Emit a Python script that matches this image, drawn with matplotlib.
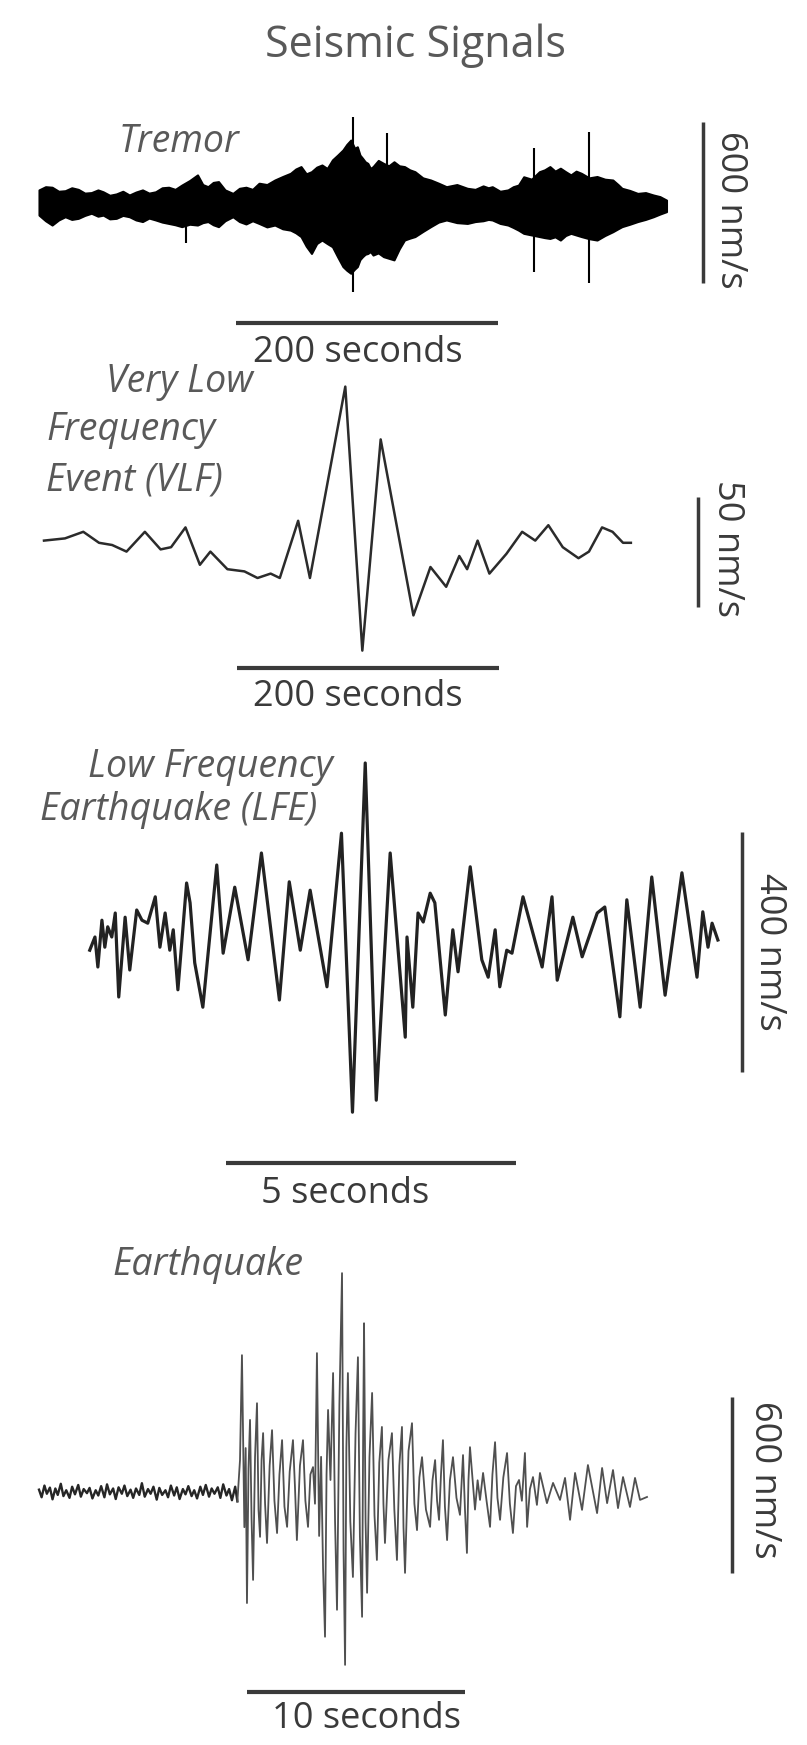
import matplotlib
matplotlib.use("Agg")
import matplotlib.pyplot as plt

# ---- Tremor: envelope of the dense record (s, nm/s) plus isolated spikes
tremor_t = [0, 5, 10, 15, 20, 25, 30, 35, 40, 45,
            49, 54, 59, 64, 69, 74, 79, 84, 89, 94,
            99, 104, 109, 115, 121, 125, 129, 133, 137, 142,
            148, 153, 158, 163, 168, 174, 180, 186, 192, 196,
            200, 204, 208, 212, 216, 220, 224, 228, 232, 235,
            238, 241, 243, 245, 247, 249, 251, 253, 255, 259,
            263, 267, 271, 275, 279, 283, 287, 293, 299, 305,
            311, 319, 327, 333, 339, 343, 346, 352, 358, 362,
            366, 370, 376, 382, 386, 390, 394, 398, 402, 406,
            410, 414, 420, 426, 432, 438, 442, 445, 451, 457,
            463, 469, 474, 479]
tremor_hi = [60, 72, 70, 55, 57, 68, 62, 48, 50, 60,
             53, 40, 45, 55, 41, 52, 60, 48, 53, 68,
             70, 62, 78, 95, 116, 80, 72, 88, 91, 60,
             47, 66, 70, 62, 85, 80, 97, 110, 122, 138,
             147, 120, 128, 145, 153, 140, 172, 190, 209, 230,
             246, 215, 221, 190, 178, 165, 159, 140, 147, 170,
             159, 150, 165, 150, 147, 135, 128, 105, 97, 85,
             72, 80, 66, 62, 75, 68, 72, 55, 60, 72,
             78, 109, 100, 128, 135, 147, 130, 141, 128, 116,
             130, 122, 105, 110, 100, 97, 80, 66, 58, 47,
             50, 41, 35, 22]
tremor_lo = [-34, -55, -71, -52, -40, -50, -46, -35, -27, -38,
             -34, -48, -46, -35, -40, -52, -58, -45, -52, -60,
             -65, -70, -77, -68, -71, -62, -58, -70, -77, -55,
             -40, -58, -67, -55, -65, -78, -71, -85, -90, -100,
             -114, -150, -177, -140, -127, -140, -152, -190, -226, -240,
             -251, -235, -226, -200, -189, -180, -177, -170, -183, -175,
             -189, -195, -201, -160, -127, -120, -114, -95, -77, -60,
             -52, -62, -65, -58, -55, -50, -52, -65, -71, -80,
             -90, -102, -108, -114, -118, -121, -115, -127, -110, -102,
             -108, -114, -122, -127, -110, -96, -85, -77, -68, -58,
             -50, -40, -30, -21]
spike_t = [112, 240, 266, 378, 420]
spike_lo = [-139, -320, -150, -245, -286]
spike_hi = [40, 333, 271, 215, 277]

# ---- Very low frequency event (s, nm/s)
vlf_t = [0, 16, 30, 42, 52, 63, 77, 89, 97, 108, 119, 127, 140, 153, 163, 173, 180,
         194, 203, 230, 243, 257, 282, 295, 307, 317, 323, 331, 340, 353, 365, 375,
         385, 396, 408, 416, 426, 434, 442, 448]
vlf_v = [2, 3, 6, 1, 0, -3, 6, -2, -1, 8, -9, -3, -11, -12, -15, -13, -15,
         11, -15, 72, -48, 48, -32, -10, -19, -5, -11, 2, -13, -4, 6, 2,
         9, -1, -6, -3, 8, 6, 1, 1]

# ---- Low frequency earthquake (s, nm/s)
lfe_t = [0.03, 0.12, 0.17, 0.24, 0.29, 0.34, 0.41, 0.47, 0.53, 0.64, 0.72, 0.84, 0.93,
         1.03, 1.16, 1.24, 1.33, 1.41, 1.47, 1.55, 1.70, 1.76, 1.84, 1.98, 2.22, 2.33,
         2.53, 2.76, 2.99, 3.30, 3.47, 3.66, 3.83, 4.12, 4.37, 4.56, 4.78, 4.97, 5.21,
         5.47, 5.50, 5.60, 5.69, 5.78, 5.90, 5.98, 6.16, 6.29, 6.38, 6.59, 6.79, 6.90,
         7.02, 7.10, 7.22, 7.31, 7.50, 7.83, 8.00, 8.09, 8.19, 8.36, 8.52, 8.78, 8.91,
         9.17, 9.29, 9.52, 9.72, 9.95, 10.24, 10.50, 10.60, 10.69, 10.76, 10.86]
lfe_v = [-17, 5, -45, 33, -12, 22, 5, 45, -95, 38, -50, 50, 33,
         28, 72, -12, 45, -17, 17, -83, 95, 62, -38, -112, 125, -22,
         88, -33, 145, -100, 97, -17, 83, -78, 178, -287, 295, -267, 145,
         -162, 5, -112, 45, 30, 78, 62, -125, 17, -53, 122, -33, -62,
         17, -78, -17, -22, 72, -45, 72, -67, -28, 38, -28, 45, 55,
         -128, 67, -112, 105, -92, 112, -62, 47, -12, 28, 0]

# ---- Regular earthquake (s, nm/s): background noise, then the event
noise_t = [0.0, 0.12, 0.25, 0.36, 0.5, 0.62, 0.75, 0.86, 1.0, 1.12,
           1.25, 1.4, 1.52, 1.65, 1.8, 1.92, 2.05, 2.2, 2.32, 2.45,
           2.6, 2.72, 2.85, 3.0, 3.12, 3.25, 3.4, 3.52, 3.65, 3.8,
           3.92, 4.05, 4.2, 4.32, 4.45, 4.6, 4.72, 4.85, 5.0, 5.12,
           5.25, 5.4, 5.52, 5.65, 5.8, 5.92, 6.05, 6.2, 6.32, 6.45,
           6.6, 6.72, 6.85, 7.0, 7.12, 7.25, 7.4, 7.52, 7.65, 7.8,
           7.92, 8.05, 8.2, 8.32, 8.45, 8.6, 8.72, 8.85, 9.0, 9.1]
noise_v = [8, -18, 22, -6, 15, -25, 12, -10, 28, -14,
           6, -20, 18, -8, 24, -16, 10, -4, 14, -22,
           6, -12, 20, -18, 26, -8, 12, -24, 16, -6,
           22, -14, 8, -20, 12, -10, 30, -16, 10, -6,
           18, -26, 14, -10, 6, -18, 22, -12, 16, -24,
           10, -8, 20, -14, 6, -22, 18, -10, 24, -16,
           12, -6, 16, -20, 26, -12, 10, -28, 18, -32]
quake_t = [9.1, 9.22, 9.31, 9.42, 9.48, 9.54, 9.61, 9.68, 9.75, 9.82, 9.91,
           10.00, 10.07, 10.14, 10.21, 10.28, 10.37, 10.46, 10.58, 10.69, 10.80,
           10.92, 11.03, 11.15, 11.26, 11.38, 11.50, 11.65, 11.74, 11.83, 11.97,
           12.11, 12.22, 12.34, 12.45, 12.57, 12.66, 12.75, 12.85, 12.94, 13.03,
           13.12, 13.19, 13.26, 13.37, 13.49, 13.58, 13.67, 13.78, 13.90, 13.97,
           14.04, 14.10, 14.17, 14.28, 14.40, 14.52, 14.63, 14.72, 14.82, 14.87,
           14.91, 14.98, 15.05, 15.16, 15.28, 15.39, 15.50, 15.61, 15.73, 15.80,
           15.87, 16.03, 16.19, 16.30, 16.42, 16.53, 16.65, 16.72, 16.79, 16.95,
           17.11, 17.22, 17.34, 17.45, 17.57, 17.75, 17.94, 18.05, 18.17, 18.26,
           18.35, 18.44, 18.53, 18.62, 18.72, 18.85, 18.99, 19.15, 19.31, 19.45,
           19.54, 19.63, 19.70, 19.77, 20.00, 20.12, 20.23, 20.37, 20.53, 20.69,
           20.80, 20.92, 21.03, 21.15, 21.30, 21.47, 21.60, 21.74, 21.88, 22.02,
           22.15, 22.29, 22.39, 22.52, 22.66, 22.84, 22.98, 23.30, 23.58, 23.90,
           24.13, 24.36, 24.59, 24.91, 25.18, 25.60, 25.83, 26.06, 26.33, 26.56,
           26.79, 27.11, 27.34, 27.57, 27.89]
quake_v = [-32, 109, 467, -120, 150, -379, 80, 246, -90, -300, 120,
           303, -60, -153, 110, 201, -40, -174, 90, 211, -30,
           -140, 60, 177, -50, -119, 70, 177, 20, -164, 90,
           177, -30, -119, 60, 85, -40, 474, -150, 120, -260,
           -494, 60, 280, 41, 406, -100, -402, 300, 747, -200,
           -590, 150, 406, -100, -290, 200, 460, -150, -426, 200,
           576, -100, -344, 120, 338, -80, -232, 100, 222, -40,
           -174, 110, 201, -60, -232, 90, 222, -120, -276, 140,
           235, -40, -130, 50, 119, -60, -119, 40, 109, -30,
           -95, 60, 177, -50, -164, 40, 119, -20, -78, 126,
           -60, -208, 40, 153, -60, 40, -27, 65, -30, -119,
           60, 170, -20, -95, 50, 133, -40, -140, 20, 41,
           -30, 133, -119, 10, 51, -44, 65, -38, 31, -27,
           48, -95, 65, -61, 92, -72, 82, -38, 75, -55,
           51, -51, 48, -27, -17]

# ---- figure, one transparent axes per trace laid over the full canvas
W, H = 807, 1745
fig = plt.figure(figsize=(W / 100, H / 100), dpi=100)
plt.rcParams['font.family'] = ['Open Sans', 'DejaVu Sans']

TEXT = '#595959'
BAR = '#3a3a3a'
LABEL_SIZE = 27
UNIT_SIZE = 26


def trace_axes(x0, px_per_s, yc, px_per_unit):
    # pixel origin of t=0 / v=0 and pixel scale of each unit
    ax = fig.add_axes([0, 0, 1, 1])
    ax.set_xlim(-x0 / px_per_s, (W - x0) / px_per_s)
    ax.set_ylim((yc - H) / px_per_unit, yc / px_per_unit)
    ax.axis('off')
    return ax


def fx(px):
    return px / W


def fy(py):
    return 1 - py / H


def label(x, y, s):
    fig.text(fx(x), fy(y), s, style='italic', fontsize=LABEL_SIZE, color=TEXT, va='baseline')


def time_text(x, y, s):
    fig.text(fx(x), fy(y), s, ha='center', va='baseline', fontsize=UNIT_SIZE, color=BAR)


def amp_text(x, y, s):
    fig.text(fx(x), fy(y), s, rotation=-90, ha='center', va='center',
             fontsize=UNIT_SIZE, color=BAR)


fig.text(fx(415), fy(57), 'Seismic Signals', ha='center', va='baseline',
         fontsize=31, color=TEXT)

# tremor
ax = trace_axes(39, 1.31, 206, 0.268)
ax.fill_between(tremor_t, tremor_lo, tremor_hi, color='black', lw=1.5, edgecolor='black')
ax.vlines(spike_t, spike_lo, spike_hi, color='black', lw=1.5)
ax.plot([150, 350], [-437, -437], color=BAR, lw=3, solid_capstyle='butt')
ax.plot([507, 507], [-287, 313], color=BAR, lw=2.5, solid_capstyle='butt')
label(119, 152, 'Tremor')
time_text(358, 362, '200 seconds')
amp_text(730, 210, '600 nm/s')

# very low frequency event
ax = trace_axes(44, 1.31, 545, 2.2)
ax.plot(vlf_t, vlf_v, color='#2b2b2b', lw=1.8)
ax.plot([147, 347], [-56, -56], color=BAR, lw=3, solid_capstyle='butt')
ax.plot([499, 499], [-28, 22], color=BAR, lw=2.5, solid_capstyle='butt')
label(106, 392, 'Very Low')
label(46, 440, 'Frequency')
label(46, 490, 'Event (VLF)')
time_text(358, 706, '200 seconds')
amp_text(727, 548, '50 nm/s')

# low frequency earthquake
ax = trace_axes(88, 58, 940, 0.6)
ax.plot(lfe_t, lfe_v, color='#222222', lw=2.3)
ax.plot([2.38, 7.38], [-372, -372], color=BAR, lw=3, solid_capstyle='butt')
ax.plot([11.28, 11.28], [-220, 180], color=BAR, lw=2.5, solid_capstyle='butt')
label(88, 777, 'Low Frequency')
label(40, 820, 'Earthquake (LFE)')
time_text(345, 1203, '5 seconds')
amp_text(769, 952, '400 nm/s')

# regular earthquake
ax = trace_axes(39, 21.8, 1492, 0.293)
ax.plot(noise_t, noise_v, color='#262626', lw=1.7)
ax.plot(quake_t, quake_v, color='#505050', lw=1.3)
ax.plot([9.54, 19.54], [-683, -683], color=BAR, lw=3, solid_capstyle='butt')
ax.plot([31.8, 31.8], [-276, 324], color=BAR, lw=2.5, solid_capstyle='butt')
label(112, 1275, 'Earthquake')
time_text(366, 1728, '10 seconds')
amp_text(764, 1480, '600 nm/s')

fig.savefig('out.png', dpi=100)
